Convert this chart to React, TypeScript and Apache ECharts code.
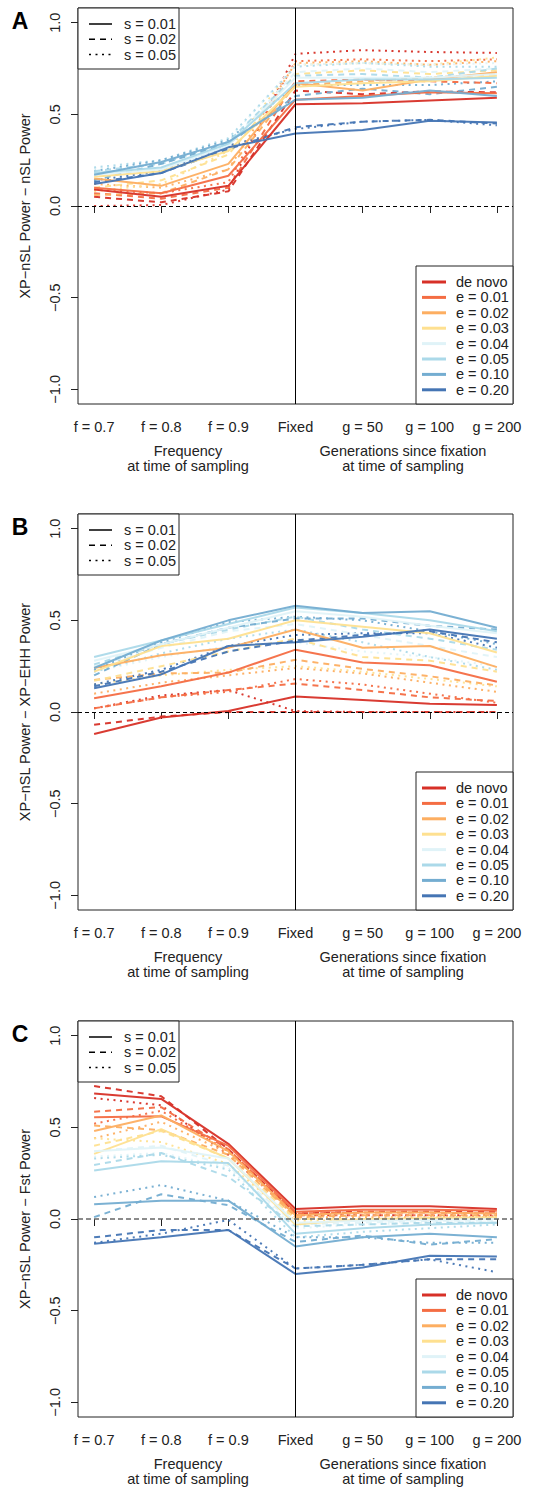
import React, { useEffect, useRef } from "react";
import * as echarts from "echarts";

const xLabels = ["f = 0.7", "f = 0.8", "f = 0.9", "Fixed", "g = 50", "g = 100", "g = 200"];
const xTicks = [1, 2, 3, 4, 5, 6, 7];
const yTicks = [-1, -0.5, 0, 0.5, 1];
const yTickLabels = ["\u22121.0", "\u22120.5", "0.0", "0.5", "1.0"];
const groupNames = ["de novo", "e = 0.01", "e = 0.02", "e = 0.03", "e = 0.04", "e = 0.05", "e = 0.10", "e = 0.20"];
const groupColors = ["#D73027", "#F46D43", "#FDAE61", "#FEE090", "#E0F3F8", "#ABD9E9", "#74ADD1", "#4575B4"];
const sNames = ["s = 0.01", "s = 0.02", "s = 0.05"];
const panelLetters = ["A", "B", "C"];
const yTitles = [
  "XP\u2212nSL Power \u2212 nSL Power",
  "XP\u2212nSL Power \u2212 XP\u2212EHH Power",
  "XP\u2212nSL Power \u2212 Fst Power",
];

// Panel A (rows: de novo, e=0.01 ... e=0.20; columns: the 7 x categories)
const A_s001 = [
  [0.09, 0.05, 0.11, 0.555, 0.56, 0.575, 0.59],
  [0.10, 0.07, 0.165, 0.58, 0.60, 0.62, 0.615],
  [0.15, 0.11, 0.23, 0.67, 0.63, 0.69, 0.73],
  [0.16, 0.19, 0.30, 0.65, 0.67, 0.68, 0.71],
  [0.17, 0.20, 0.33, 0.70, 0.70, 0.70, 0.72],
  [0.18, 0.21, 0.34, 0.67, 0.69, 0.69, 0.70],
  [0.17, 0.24, 0.35, 0.58, 0.59, 0.63, 0.60],
  [0.12, 0.18, 0.32, 0.395, 0.415, 0.465, 0.455],
];
const A_s002 = [
  [0.05, 0.02, 0.08, 0.63, 0.61, 0.625, 0.62],
  [0.07, 0.04, 0.10, 0.68, 0.69, 0.68, 0.67],
  [0.06, 0.07, 0.20, 0.66, 0.68, 0.70, 0.72],
  [0.10, 0.14, 0.28, 0.72, 0.74, 0.72, 0.74],
  [0.18, 0.20, 0.33, 0.73, 0.75, 0.73, 0.75],
  [0.19, 0.23, 0.35, 0.71, 0.72, 0.70, 0.75],
  [0.14, 0.23, 0.34, 0.60, 0.64, 0.61, 0.65],
  [0.13, 0.18, 0.31, 0.43, 0.46, 0.47, 0.45],
];
const A_s005 = [
  [0.00, 0.005, 0.09, 0.83, 0.85, 0.84, 0.835],
  [0.09, 0.07, 0.13, 0.79, 0.80, 0.79, 0.80],
  [0.12, 0.10, 0.20, 0.78, 0.79, 0.77, 0.79],
  [0.08, 0.12, 0.30, 0.77, 0.78, 0.77, 0.81],
  [0.20, 0.24, 0.36, 0.77, 0.78, 0.77, 0.78],
  [0.21, 0.25, 0.37, 0.76, 0.78, 0.76, 0.76],
  [0.19, 0.25, 0.36, 0.66, 0.66, 0.66, 0.68],
  [0.14, 0.19, 0.33, 0.42, 0.46, 0.47, 0.44],
];

// Panel B
const B_s001 = [
  [-0.12, -0.03, 0.005, 0.085, 0.065, 0.045, 0.038],
  [0.075, 0.14, 0.215, 0.34, 0.27, 0.255, 0.165],
  [0.24, 0.31, 0.35, 0.45, 0.35, 0.36, 0.245],
  [0.22, 0.36, 0.40, 0.50, 0.465, 0.43, 0.325],
  [0.28, 0.37, 0.46, 0.55, 0.52, 0.47, 0.43],
  [0.30, 0.39, 0.48, 0.57, 0.54, 0.50, 0.44],
  [0.24, 0.39, 0.50, 0.58, 0.54, 0.55, 0.46],
  [0.13, 0.205, 0.36, 0.38, 0.41, 0.45, 0.40],
];
const B_s002 = [
  [-0.07, -0.025, 0.0, 0.0, 0.0, 0.0, 0.0],
  [0.02, 0.08, 0.12, 0.155, 0.12, 0.08, 0.06],
  [0.175, 0.21, 0.215, 0.285, 0.235, 0.195, 0.145],
  [0.17, 0.25, 0.33, 0.40, 0.30, 0.28, 0.22],
  [0.25, 0.35, 0.44, 0.48, 0.42, 0.36, 0.30],
  [0.26, 0.37, 0.45, 0.52, 0.45, 0.40, 0.34],
  [0.20, 0.37, 0.46, 0.51, 0.51, 0.47, 0.45],
  [0.14, 0.22, 0.33, 0.39, 0.42, 0.44, 0.38],
];
const B_s005 = [
  [0.02, 0.09, 0.12, 0.005, 0.0, 0.0, 0.0],
  [0.02, 0.08, 0.11, 0.18, 0.15, 0.10, 0.05],
  [0.10, 0.16, 0.20, 0.24, 0.21, 0.16, 0.11],
  [0.15, 0.20, 0.23, 0.25, 0.22, 0.18, 0.14],
  [0.22, 0.30, 0.36, 0.38, 0.33, 0.30, 0.25],
  [0.22, 0.32, 0.40, 0.45, 0.38, 0.30, 0.23],
  [0.23, 0.38, 0.49, 0.52, 0.50, 0.44, 0.37],
  [0.15, 0.23, 0.36, 0.42, 0.43, 0.43, 0.35],
];

// Panel C
const C_s001 = [
  [0.685, 0.655, 0.41, 0.055, 0.07, 0.07, 0.055],
  [0.555, 0.56, 0.40, 0.04, 0.05, 0.05, 0.045],
  [0.48, 0.565, 0.37, 0.02, 0.035, 0.035, 0.03],
  [0.355, 0.49, 0.33, -0.03, 0.0, 0.005, 0.01],
  [0.37, 0.39, 0.33, -0.02, -0.01, -0.005, 0.0],
  [0.265, 0.315, 0.305, -0.08, -0.05, -0.03, -0.02],
  [0.08, 0.10, 0.10, -0.15, -0.10, -0.08, -0.10],
  [-0.135, -0.10, -0.06, -0.30, -0.265, -0.20, -0.205],
];
const C_s002 = [
  [0.725, 0.67, 0.38, 0.03, 0.04, 0.04, 0.04],
  [0.585, 0.61, 0.38, 0.03, 0.035, 0.035, 0.03],
  [0.51, 0.485, 0.35, 0.01, 0.02, 0.02, 0.02],
  [0.40, 0.48, 0.33, 0.0, 0.0, 0.0, 0.005],
  [0.37, 0.40, 0.29, -0.03, -0.02, -0.01, -0.01],
  [0.295, 0.36, 0.23, -0.04, -0.03, -0.02, -0.02],
  [0.01, 0.135, 0.075, -0.125, -0.09, -0.14, -0.11],
  [-0.10, -0.06, -0.06, -0.27, -0.25, -0.22, -0.22],
];
const C_s005 = [
  [0.66, 0.62, 0.35, 0.02, 0.02, 0.02, 0.02],
  [0.52, 0.59, 0.37, 0.02, 0.02, 0.02, 0.015],
  [0.44, 0.53, 0.36, 0.01, 0.01, 0.01, 0.01],
  [0.44, 0.42, 0.30, -0.01, -0.005, 0.0, 0.0],
  [0.34, 0.36, 0.28, -0.05, -0.03, -0.02, -0.02],
  [0.33, 0.35, 0.27, -0.10, -0.07, -0.05, -0.03],
  [0.12, 0.185, 0.10, -0.10, -0.10, -0.13, -0.13],
  [-0.13, -0.08, -0.005, -0.27, -0.25, -0.22, -0.29],
];

const panels = [
  [A_s001, A_s002, A_s005],
  [B_s001, B_s002, B_s005],
  [C_s001, C_s002, C_s005],
];

const FONT = "'Liberation Sans', Arial, Helvetica, sans-serif";
const FS = 14.5;
const PLOT_LEFT = 78;
const PLOT_W = 435;
const PLOT_H = 396;
const PANEL_TOPS = [8, 514, 1021];
const DASH_TYPES: any[] = ["solid", [6, 5], [2, 4.5]];

function buildOption() {
  const grids: any[] = [];
  const xAxes: any[] = [];
  const yAxes: any[] = [];
  const series: any[] = [];
  const graphics: any[] = [];

  panels.forEach((styles, p) => {
    const top = PANEL_TOPS[p];
    grids.push({
      left: PLOT_LEFT,
      top,
      width: PLOT_W,
      height: PLOT_H,
      show: true,
      borderColor: "#222",
      borderWidth: 1,
      backgroundColor: "transparent",
    });
    xAxes.push({
      type: "value",
      gridIndex: p,
      min: 0.76,
      max: 7.24,
      splitLine: { show: false },
      axisLine: { show: false },
      axisTick: { show: true, length: 7, customValues: xTicks, lineStyle: { color: "#222" } },
      axisLabel: {
        customValues: xTicks,
        margin: 15,
        fontSize: FS,
        fontFamily: FONT,
        color: "#222",
        formatter: (v: number) => xLabels[Math.round(v) - 1] || "",
      },
    });
    yAxes.push({
      type: "value",
      gridIndex: p,
      min: -1.08,
      max: 1.08,
      splitLine: { show: false },
      axisLine: { show: false },
      axisTick: { show: true, length: 7, customValues: yTicks, lineStyle: { color: "#222" } },
      axisLabel: {
        customValues: yTicks,
        rotate: 90,
        margin: 16,
        fontSize: FS,
        fontFamily: FONT,
        color: "#222",
        formatter: (v: number) => {
          const i = yTicks.findIndex((t) => Math.abs(t - v) < 1e-6);
          return i >= 0 ? yTickLabels[i] : "";
        },
      },
      name: yTitles[p],
      nameLocation: "middle",
      nameGap: 46,
      nameRotate: 90,
      nameTextStyle: { fontSize: FS, fontFamily: FONT, color: "#222" },
    });

    styles.forEach((rows, s) => {
      rows.forEach((vals, g) => {
        const ser: any = {
          type: "line",
          name: groupNames[g] + " / " + sNames[s],
          xAxisIndex: p,
          yAxisIndex: p,
          data: vals.map((v, i) => [xTicks[i], v]),
          symbol: "none",
          silent: true,
          z: 2 + (2 - s),
          lineStyle: { color: groupColors[g], width: 2, type: DASH_TYPES[s], cap: "butt", opacity: 0.95 },
        };
        if (s === 0 && g === 0) {
          ser.markLine = {
            silent: true,
            symbol: "none",
            label: { show: false },
            animation: false,
            data: [
              { xAxis: 4, lineStyle: { color: "#000", width: 1, type: "solid" } },
              {
                yAxis: 0,
                lineStyle: p === 2
                  ? { color: "#666", width: 1.6, type: [5, 3] }
                  : { color: "#000", width: 1, type: [4, 3] },
              },
            ],
          };
        }
        series.push(ser);
      });
    });

    // Panel letter
    graphics.push({
      type: "text",
      x: 20,
      y: top + 13,
      style: {
        text: panelLetters[p],
        font: `bold 23px ${FONT}`,
        fill: "#000",
        align: "center",
        verticalAlign: "middle",
      },
    });
    // Axis titles
    const bottom = top + PLOT_H;
    const titleLines = [
      [188, "Frequency"],
      [188, "at time of sampling"],
      [403, "Generations since fixation"],
      [403, "at time of sampling"],
    ];
    titleLines.forEach(([x, t], k) => {
      graphics.push({
        type: "text",
        x: x as number,
        y: bottom + (k % 2 === 0 ? 47 : 62),
        style: {
          text: t as string,
          font: `${FS}px ${FONT}`,
          fill: "#222",
          align: "center",
          verticalAlign: "middle",
        },
      });
    });

    // Line-type legend
    const children1: any[] = [
      {
        type: "rect",
        shape: { x: PLOT_LEFT, y: top, width: 101, height: 61 },
        style: { fill: "#fff", stroke: "#222", lineWidth: 1 },
      },
    ];
    sNames.forEach((name, i) => {
      const yy = top + 16 + i * 15.3;
      children1.push({
        type: "line",
        shape: { x1: 89, y1: yy, x2: 112, y2: yy },
        style: { stroke: "#000", lineWidth: 1.5, lineDash: DASH_TYPES[i] === "solid" ? null : DASH_TYPES[i] },
      });
      children1.push({
        type: "text",
        x: 124,
        y: yy,
        style: { text: name, font: `${FS}px ${FONT}`, fill: "#222", verticalAlign: "middle" },
      });
    });
    graphics.push({ type: "group", z: 100, children: children1 });

    // Colour legend
    const lt = top + 258;
    const children2: any[] = [
      {
        type: "rect",
        shape: { x: 416, y: lt, width: 97, height: PLOT_H - 258 },
        style: { fill: "#fff", stroke: "#222", lineWidth: 1 },
      },
    ];
    groupNames.forEach((name, i) => {
      const yy = lt + 16 + i * 15.4;
      children2.push({
        type: "line",
        shape: { x1: 422, y1: yy, x2: 446, y2: yy },
        style: { stroke: groupColors[i], lineWidth: 3 },
      });
      children2.push({
        type: "text",
        x: 456,
        y: yy,
        style: { text: name, font: `${FS}px ${FONT}`, fill: "#222", verticalAlign: "middle" },
      });
    });
    graphics.push({ type: "group", z: 100, children: children2 });
  });

  return {
    animation: false,
    backgroundColor: "#fff",
    textStyle: { fontFamily: FONT },
    grid: grids,
    xAxis: xAxes,
    yAxis: yAxes,
    series,
    graphic: graphics,
  };
}

export default function App() {
  const ref = useRef<HTMLDivElement>(null);
  useEffect(() => {
    document.body.style.margin = "0";
    if (!ref.current) return;
    const chart = echarts.init(ref.current, undefined, { renderer: "svg" });
    chart.setOption(buildOption() as any);
    return () => chart.dispose();
  }, []);
  return <div ref={ref} style={{ width: 533, height: 1487 }} />;
}
